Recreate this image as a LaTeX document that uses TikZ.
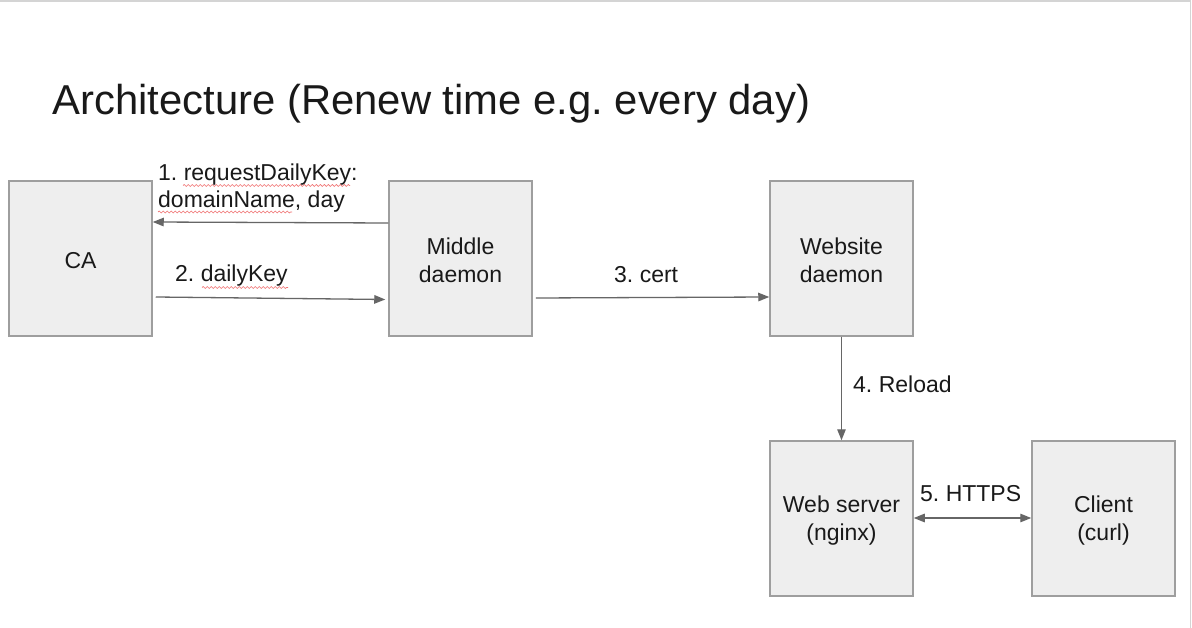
\documentclass[tikz,border=0pt]{standalone}
\usepackage{fontspec}
\setmainfont{Liberation Sans}
\usetikzlibrary{arrows.meta,decorations.pathmorphing,calc}
\frenchspacing
\definecolor{boxfill}{HTML}{EEEEEE}
\definecolor{boxline}{HTML}{9E9E9E}
\definecolor{arrowc}{HTML}{666666}
\definecolor{frame}{HTML}{D4D4D4}
\definecolor{squig}{HTML}{F07070}
\tikzset{
  block/.style={draw=boxline, fill=boxfill, line width=1.5pt, minimum width=143pt, minimum height=155pt, inner sep=0pt,
    align=center, font=\fontsize{23}{27.5}\selectfont, text=black!90},
  lbl/.style={inner sep=0pt, font=\fontsize{23}{27.5}\selectfont, text=black!90},
  arr/.style={draw=arrowc, line width=1.3pt, -{Triangle[length=11pt,width=8.5pt]}},
  darr/.style={draw=arrowc, line width=1.3pt, {Triangle[length=11pt,width=8.5pt]}-{Triangle[length=11pt,width=8.5pt]}},
  spell/.style={draw=squig, line width=0.7pt, decorate, decoration={snake, amplitude=1pt, segment length=4pt}}
}
\begin{document}
\begin{tikzpicture}[x=1pt,y=-1pt]
\useasboundingbox (0,0) rectangle (1192,628);
\fill[white] (0,0) rectangle (1192,628);
\draw[frame, line width=1.5pt] (0,1) -- (1190.5,1) -- (1190.5,628);

\node[anchor=base west, inner sep=0pt, font=\fontsize{41.8}{48}\selectfont, text=black!90] (title) at (52.5,115) {Architecture (Renew time e.g. every day)};

\node[block] (ca) at (80.5,258.5) {};
\node[block] (mid) at (460.5,258.5) {};
\node[block] (web) at (841.5,258.5) {};
\node[block] (nginx) at (841.5,518.5) {};
\node[block] (client) at (1103.5,518.5) {};
\node[lbl, align=center] at ($(ca.center)+(0,2)$) {CA};
\node[lbl, align=center] at ($(mid.center)+(0,2)$) {Middle\\daemon};
\node[lbl, align=center] at ($(web.center)+(0,2)$) {Website\\daemon};
\node[lbl, align=center] at ($(nginx.center)+(0,2)$) {Web server\\(nginx)};
\node[lbl, align=center] at ($(client.center)+(0,2)$) {Client\\(curl)};

% connectors
\draw[arr] (mid.west |- 0,223) -- (ca.east |- 0,222);
\draw[arr] ($(ca.east |- 0,297)+(3,0)$) -- ($(mid.west |- 0,299.5)+(-3,0)$);
\draw[arr] ($(mid.east |- 0,298)+(3,0)$) -- (web.west |- 0,297);
\draw[arr] (web.south) -- (nginx.north);
\draw[darr] (nginx.east |- 0,518) -- (client.west |- 0,518);

% labels
\node[lbl, anchor=base west] (l1a) at (158,181) {1. requestDailyKey:};
\node[lbl, anchor=base west] (l1b) at (158,208) {domainName, day};
\node[lbl, anchor=base west] (l2) at (175,282) {2. dailyKey};
\node[lbl, anchor=base west] (l3) at (614,283) {3. cert};
\node[lbl, anchor=base west] (l4) at (853,392) {4. Reload};
\node[lbl, anchor=base west] (l5) at (920,501) {5. HTTPS};

% spell-check underlines
\draw[spell] (183,185.5) -- (350,185.5);
\draw[spell] (158,212) -- (292,212);
\draw[spell] (202,287.5) -- (288,287.5);
\end{tikzpicture}
\end{document}
